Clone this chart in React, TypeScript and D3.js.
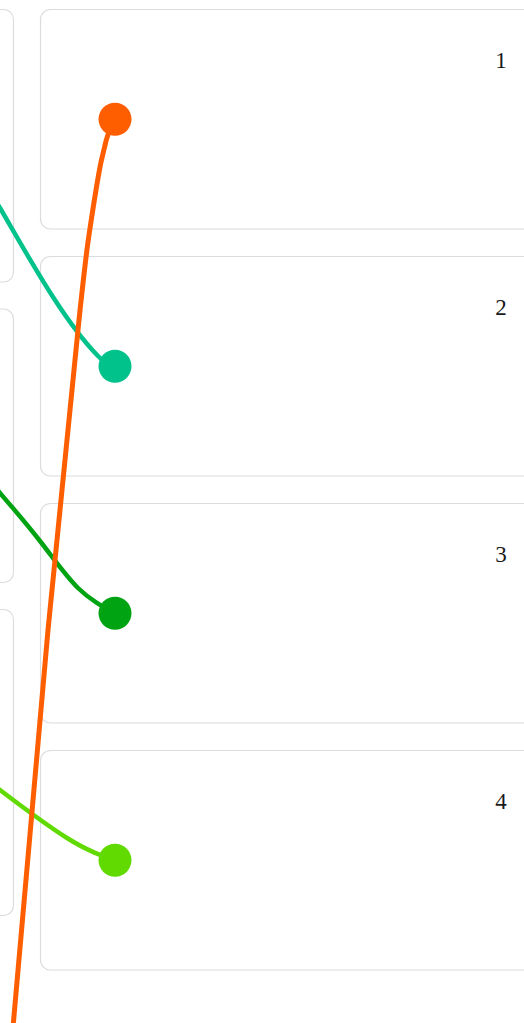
import React, { useEffect, useRef } from "react";
import * as d3 from "d3";

// right column cards
const cardLabels = ["1", "2", "3", "4"];
// left column cards (only their right edges are visible)
const leftCardHeights = [272.5, 273.5, 306];

const nodeColors = ["#ff5e00", "#00c28a", "#00a312", "#60da00"];

// link routes, [x, y] in page pixels
const tealRoute: [number, number][] = [
  [-25, 169], [0, 208], [53, 297], [98, 356], [115, 366],
];
const greenRoute: [number, number][] = [
  [-25, 464], [0, 493], [40, 541], [78, 588], [115, 613],
];
const limeRoute: [number, number][] = [
  [-25, 771], [0, 790], [67, 838], [115, 860],
];
const orangeRoute: [number, number][] = [
  [113, 119], [101, 162], [89, 235], [79, 320], [48, 630], [11, 1050],
];

const W = 524;
const H = 1023;

const App = () => {
  const svgRef = useRef<SVGSVGElement | null>(null);

  useEffect(() => {
    document.body.style.margin = "0";
    if (!svgRef.current) return;
    const svg = d3.select(svgRef.current);
    svg.selectAll("*").remove();

    const rowY = d3.scaleLinear().domain([0, 1]).range([9.5, 256.5]);
    const cardX = 40.5;
    const cardW = 520;
    const cardH = 219.5;
    const gap = 27;

    // left column
    let top = 9.5;
    svg
      .append("g")
      .selectAll("rect")
      .data(leftCardHeights)
      .enter()
      .append("rect")
      .attr("x", 13.5 - cardW)
      .attr("y", (h) => {
        const y = top;
        top += h + gap;
        return y;
      })
      .attr("width", cardW)
      .attr("height", (h) => h)
      .attr("rx", 10)
      .attr("fill", "#fff")
      .attr("stroke", "#dcdce0")
      .attr("stroke-width", 1.2);

    const cards = svg
      .append("g")
      .selectAll("g")
      .data(cardLabels)
      .enter()
      .append("g")
      .attr("transform", (_, i) => `translate(${cardX}, ${rowY(i)})`);

    cards
      .append("rect")
      .attr("width", cardW)
      .attr("height", cardH)
      .attr("rx", 10)
      .attr("fill", "#fff")
      .attr("stroke", "#dcdce0")
      .attr("stroke-width", 1.2);

    cards
      .append("text")
      .attr("x", 460.5)
      .attr("y", 58.5)
      .attr("text-anchor", "middle")
      .style("font-family", "'Liberation Serif', serif")
      .style("font-size", "23px")
      .style("fill", "#1a1a1a")
      .text((d) => d);

    const line = d3.line().curve(d3.curveNatural);

    const links = [
      { route: tealRoute, color: nodeColors[1], w: 4.5 },
      { route: greenRoute, color: nodeColors[2], w: 4.5 },
      { route: limeRoute, color: nodeColors[3], w: 4.5 },
      { route: orangeRoute, color: nodeColors[0], w: 5 },
    ];

    svg
      .append("g")
      .selectAll("path")
      .data(links)
      .enter()
      .append("path")
      .attr("d", (d) => line(d.route))
      .attr("fill", "none")
      .attr("stroke", (d) => d.color)
      .attr("stroke-width", (d) => d.w)
      .attr("stroke-linecap", "round");

    svg
      .append("g")
      .selectAll("circle")
      .data(cardLabels)
      .enter()
      .append("circle")
      .attr("cx", cardX + 74.5)
      .attr("cy", (_, i) => rowY(i) + cardH / 2)
      .attr("r", 16.5)
      .attr("fill", (_, i) => nodeColors[i]);
  }, []);

  return (
    <svg
      ref={svgRef}
      width={W}
      height={H}
      style={{ display: "block", position: "absolute", left: 0, top: 0 }}
    />
  );
};

export default App;
